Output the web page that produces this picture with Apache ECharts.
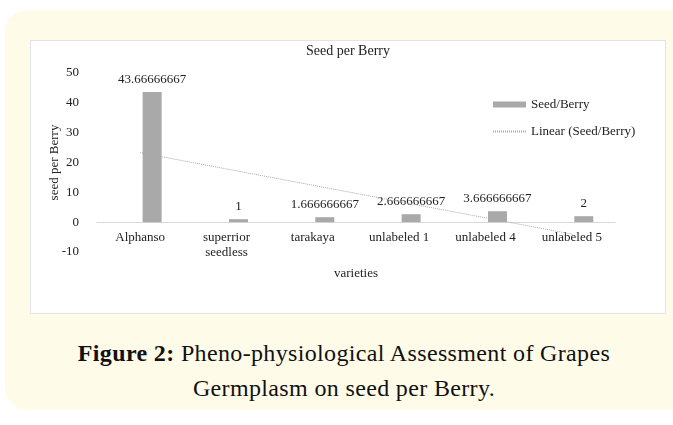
<!DOCTYPE html>
<html>
<head>
<meta charset="utf-8">
<script src="https://cdn.jsdelivr.net/npm/echarts@6/dist/echarts.min.js"></script>
<style>
  html, body { margin: 0; padding: 0; width: 673px; height: 425px; background: #ffffff; overflow: hidden; }
  #panel {
    position: absolute; left: 5px; top: 10px; width: 690px; height: 400px;
    background: #fefbe9; border-radius: 22px;
  }
  #box {
    position: absolute; left: 30px; top: 40px; width: 634px; height: 272px;
    background: #ffffff; border: 1px solid #e3e3e3;
  }
  #chart { width: 634px; height: 272px; }
  #caption {
    position: absolute; left: 0; top: 336px; width: 688px; text-align: center;
    font-family: "Liberation Serif", serif; font-size: 24px; line-height: 35px; color: #111;
    letter-spacing: 0.35px;
  }
</style>
</head>
<body>
<div id="panel"></div>
<div id="box"><div id="chart"></div></div>
<div id="caption"><b>Figure 2:</b> Pheno-physiological Assessment of Grapes<br>Germplasm on seed per Berry.</div>
<script>
const varieties = ['Alphanso', 'superrior\nseedless', 'tarakaya', 'unlabeled 1', 'unlabeled 4', 'unlabeled 5']
const seedPerBerry = [43.66666667, 1, 1.666666667, 2.666666667, 3.666666667, 2]
// trendline: [category index, value]
const trendStart = [0, 23.3]
const trendEnd = [4.85, -4.0]

const serif = '"Liberation Serif", "Times New Roman", serif'
const chart = echarts.init(document.getElementById('chart'))

chart.setOption({
  animation: false,
  backgroundColor: '#ffffff',
  textStyle: { fontFamily: serif, color: '#222' },
  title: {
    text: 'Seed per Berry',
    left: 'center',
    top: 3,
    padding: 0,
    textStyle: { fontFamily: serif, fontSize: 14, fontWeight: 'normal', color: '#222' },
  },
  legend: {
    orient: 'vertical',
    left: 461,
    top: 57,
    padding: 0,
    itemGap: 14,
    itemWidth: 33,
    itemHeight: 6,
    textStyle: { fontFamily: serif, fontSize: 13, color: '#222' },
    data: [
      { name: 'Seed/Berry', icon: 'rect' },
      { name: 'Linear (Seed/Berry)', itemStyle: { opacity: 0 } },
    ],
  },
  grid: { left: 66, right: 50, top: 32, bottom: 61, outerBoundsMode: 'none' },
  xAxis: {
    type: 'category',
    data: varieties,
    name: 'varieties',
    nameLocation: 'middle',
    nameGap: 15,
    nameMoveOverlap: false,
    nameTextStyle: { fontFamily: serif, fontSize: 13, color: '#222' },
    axisLine: { onZero: true, lineStyle: { color: '#d9d9d9', width: 1 } },
    axisTick: { show: false },
    axisLabel: { fontFamily: serif, fontSize: 13, color: '#222', margin: -22, interval: 0, lineHeight: 15 },
  },
  yAxis: {
    type: 'value',
    min: -10,
    max: 50,
    interval: 10,
    name: 'seed per Berry',
    nameLocation: 'middle',
    nameGap: 36,
    nameMoveOverlap: false,
    nameTextStyle: { fontFamily: serif, fontSize: 13, color: '#222' },
    axisLine: { show: false },
    axisTick: { show: false },
    splitLine: { show: false },
    axisLabel: { fontFamily: serif, fontSize: 13, color: '#222', margin: 18 },
  },
  series: [
    {
      // empty slot so the bars sit right of centre as in the original
      name: '',
      type: 'bar',
      data: [],
      barWidth: 19,
      barGap: '26%',
    },
    {
      name: 'Seed/Berry',
      type: 'bar',
      data: seedPerBerry,
      barWidth: 19,
      barGap: '26%',
      itemStyle: { color: '#a9a9a9' },
      label: {
        show: true,
        position: 'top',
        distance: 6,
        fontFamily: serif,
        fontSize: 13,
        color: '#222',
        formatter: p => String(p.value),
      },
    },
    {
      name: 'Linear (Seed/Berry)',
      type: 'line',
      data: [trendStart, trendEnd],
      symbol: 'none',
      lineStyle: { color: '#a9a9a9', width: 1, type: [1, 1] },
      itemStyle: { color: '#a9a9a9' },
      z: 5,
    },
  ],
})
</script>
</body>
</html>
